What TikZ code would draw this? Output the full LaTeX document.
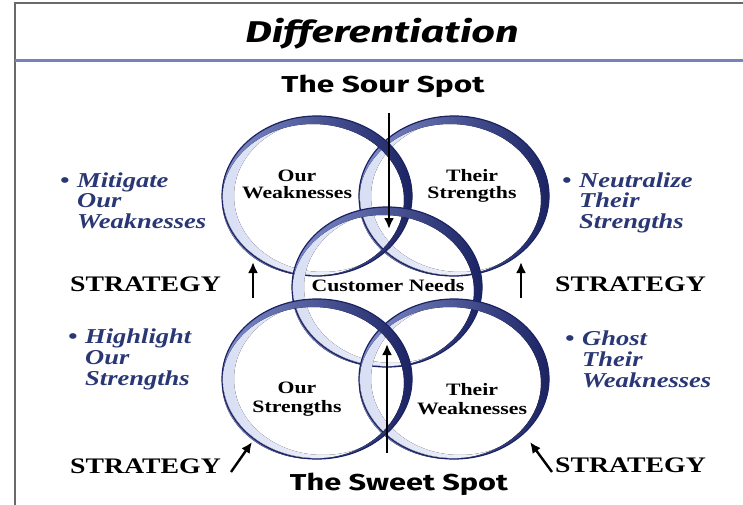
\documentclass[tikz,border=0pt]{standalone}
\usepackage{fontspec}
\usepackage{graphicx}
\usetikzlibrary{arrows.meta}
\newfontfamily\tms[FakeStretch=1.25]{Liberation Serif}
\newfontfamily\fira{Fira Sans}
\definecolor{navy}{HTML}{1B2363}
\definecolor{ink}{HTML}{2A3775}
\definecolor{ringlight}{HTML}{A9B6E6}
\definecolor{ringmid}{HTML}{7F8CCB}
\definecolor{rulec}{HTML}{7483BA}
\definecolor{framec}{HTML}{6A6A6A}
\tikzset{
  lab/.style={font=\tms\bfseries\fontsize{17.4}{18}\selectfont, anchor=base, inner sep=0pt},
  strat/.style={font=\tms\bfseries\fontsize{22.2}{24}\selectfont, anchor=base west, inner sep=0pt},
  bul/.style={font=\tms\bfseries\itshape\fontsize{21.2}{22}\selectfont, text=ink, anchor=base west, inner sep=0pt},
  arr/.style={line width=2.4pt, -{Latex[length=11pt,width=10pt]}},
  ringline/.style={draw=navy, line width=1.2pt},
}
\newcommand{\vring}[2]{%
  \fill[even odd rule, left color=ringlight!45, right color=white]
    (#1,#2) ellipse [x radius=94, y radius=79]
    (#1+6,#2) ellipse [x radius=89, y radius=76];
  \fill[even odd rule, left color=ringmid, right color=navy]
    (#1,#2) ellipse [x radius=95, y radius=80]
    (#1-4,#2+4) ellipse [x radius=91, y radius=76];
  \draw[ringline] (#1,#2) ellipse [x radius=95, y radius=80];
}
\begin{document}
\begin{tikzpicture}[x=1pt,y=-1pt]
\useasboundingbox (0,0) rectangle (743,505);
\fill[white] (0,0) rectangle (743,505);
% frame and rule
\draw[framec, line width=1.5pt] (15,505) -- (15,3) -- (743,3);
\draw[rulec, line width=3pt] (15,61) -- (743,61);
% title
\node[anchor=base, inner sep=0pt] (title) at (382,43)
  {\resizebox{273pt}{\height}{\fira\bfseries\itshape\fontsize{30}{32}\selectfont Differentiation}};
% rings
\vring{454}{196}
\vring{317}{196}
\vring{387}{287}
\vring{454}{379}
\vring{317}{379}
% spot headings
\node[anchor=base, inner sep=0pt] (sour) at (383,93)
  {\resizebox{203pt}{\height}{\fira\bfseries\fontsize{23}{25}\selectfont The Sour Spot}};
\node[anchor=base, inner sep=0pt] (sweet) at (399,490)
  {\resizebox{218pt}{\height}{\fira\bfseries\fontsize{23}{25}\selectfont The Sweet Spot}};
% ring labels
\node[lab] (ow1) at (297,181) {Our};
\node[lab] (ow2) at (297,198) {Weaknesses};
\node[lab] (ts1) at (472,181) {Their};
\node[lab] (ts2) at (472,198) {Strengths};
\node[lab] (cn) at (388,291) {Customer Needs};
\node[lab] (os1) at (297,393) {Our};
\node[lab] (os2) at (297,412) {Strengths};
\node[lab] (tw1) at (472,395) {Their};
\node[lab] (tw2) at (472,414) {Weaknesses};
% strategy labels
\node[strat] (st1) at (70,291) {STRATEGY};
\node[strat] (st2) at (555,291) {STRATEGY};
\node[strat] (st3) at (70,473) {STRATEGY};
\node[strat] (st4) at (555,472) {STRATEGY};
% bullet blocks
\node[bul] (b1) at (60,187) {•};
\node[bul] (m1) at (77,187) {Mitigate};
\node[bul] (m2) at (77,207) {Our};
\node[bul] (m3) at (77,228) {Weaknesses};
\node[bul] (b2) at (68,343) {•};
\node[bul] (h1) at (85,343) {Highlight};
\node[bul] (h2) at (85,364) {Our};
\node[bul] (h3) at (85,385) {Strengths};
\node[bul] (b3) at (562,187) {•};
\node[bul] (n1) at (579,187) {Neutralize};
\node[bul] (n2) at (579,207) {Their};
\node[bul] (n3) at (579,228) {Strengths};
\node[bul] (b4) at (565,345) {•};
\node[bul] (g1) at (582,345) {Ghost};
\node[bul] (g2) at (582,366) {Their};
\node[bul] (g3) at (582,387) {Weaknesses};
% arrow coordinates
\coordinate (sourA) at (389,113);
\coordinate (sourB) at (389,229);
\coordinate (sweetA) at (387,453);
\coordinate (sweetB) at (387,344);
\coordinate (lA) at (253,298);
\coordinate (lB) at (253,262);
\coordinate (rA) at (521,298);
\coordinate (rB) at (521,262);
\coordinate (blA) at (231,472);
\coordinate (blB) at (252,442);
\coordinate (brA) at (552,472);
\coordinate (brB) at (530,442);
\draw[arr] (sourA) -- (sourB);
\draw[arr] (sweetA) -- (sweetB);
\draw[arr] (lA) -- (lB);
\draw[arr] (rA) -- (rB);
\draw[arr] (blA) -- (blB);
\draw[arr] (brA) -- (brB);
\end{tikzpicture}
\end{document}
